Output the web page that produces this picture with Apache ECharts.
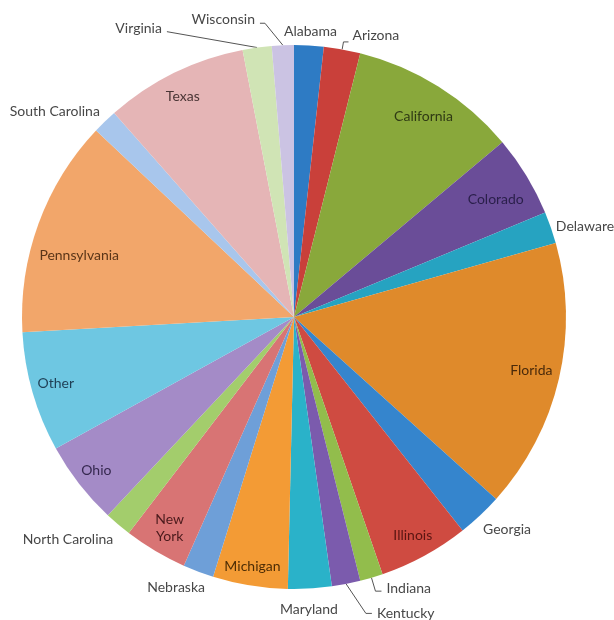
<!DOCTYPE html>
<html>
<head>
<meta charset="utf-8">
<script src="https://cdn.jsdelivr.net/npm/echarts@6/dist/echarts.min.js"></script>
<style>
html,body{margin:0;padding:0;background:#ffffff;}
#c{width:614px;height:620px;}
</style>
</head>
<body>
<div id="c"></div>
<script>
// ---- data ----
const states = ["Alabama","Arizona","California","Colorado","Delaware","Florida","Georgia","Illinois","Indiana","Kentucky","Maryland","Michigan","Nebraska","New York","North Carolina","Ohio","Other","Pennsylvania","South Carolina","Texas","Virginia","Wisconsin"];
const shares = [6.3, 7.8, 35.9, 17.4, 6.8, 57.8, 9.7, 19.3, 4.9, 6.1, 9.3, 16.0, 6.6, 13.5, 5.8, 17.9, 25.7, 46.5, 5.3, 30.5, 6.2, 4.7];

// ---- styles ----
const sliceColors = ["#2e7bc4","#c9403a","#89a83b","#6a4d98","#26a3c1","#df8a2b","#3585cd","#cf4b41","#92bd4c","#7b5bad","#2ab2c9","#f39b35","#6e9fd8","#d87474","#a3cd6c","#a48bc7","#6ec7e2","#f2a66a","#a8c6ec","#e5b5b6","#d0e4b5","#cbc3e3"];
const insideLabelStyle = {
  "California":   {color:"#2f3a14", nudge:[-2,10]},
  "Colorado":     {color:"#2a1f4a", nudge:[-10,11]},
  "Florida":      {color:"#4a2a0a", nudge:[-4,-3]},
  "Illinois":     {color:"#5a1512", nudge:[0,1]},
  "Michigan":     {color:"#4d2d05", nudge:[-1.5,4.5]},
  "New York":     {color:"#4a1a1c", nudge:[2,-2], text:"New\nYork"},
  "Ohio":         {color:"#35284f", nudge:[-2,1]},
  "Other":        {color:"#1f3f55", nudge:[0,-2]},
  "Pennsylvania": {color:"#5a3518", nudge:[18,23]},
  "Texas":        {color:"#4a3535", nudge:[-2,2]}
};
const outsideLabelStyle = {
  "Alabama":        {len:0,   len2:0,  dist:0, line:"none",     align:"center", nudge:[1.6,-13.7]},
  "Arizona":        {len:7.5, len2:5,  dist:4, line:"elbow",    nudge:[0,-6]},
  "Delaware":       {len:0,   len2:0,  dist:3, line:"none",     nudge:[2,-1]},
  "Georgia":        {len:0,   len2:0,  dist:3, line:"none",     nudge:[0,14]},
  "Indiana":        {len:14,  len2:6,  dist:5, line:"elbow",    nudge:[0,-3]},
  "Kentucky":       {len:30,  len2:20, dist:5, line:"diag", k:6, nudge:[0,0]},
  "Maryland":       {len:0,   len2:0,  dist:0, line:"none",     align:"center", nudge:[-1,20.5]},
  "Nebraska":       {len:0,   len2:0,  dist:3, line:"none",     nudge:[9.7,15.7]},
  "North Carolina": {len:0,   len2:0,  dist:3, line:"none",     nudge:[-1.8,14.8]},
  "South Carolina": {len:0,   len2:0,  dist:3, line:"none",     nudge:[-2,-9.8]},
  "Virginia":       {len:16,  len2:88, dist:5, line:"straight", nudge:[0,-3.6]},
  "Wisconsin":      {len:22,  len2:22, dist:5, line:"diag", k:5, nudge:[0,-4]}
};
const CENTER = [294, 317];
const RADIUS = 272;
const FONT = "Lato";
const FONT_SIZE = 14;
const OUT_COLOR = "#474747";

const chart = echarts.init(document.getElementById("c"), null, {renderer: "canvas"});

const mainData = states.map((name, i) => {
  const o = outsideLabelStyle[name];
  const item = {name: name, value: shares[i], itemStyle: {color: sliceColors[i]}};
  if (o) {
    item.label = {show: true, position: "outside", distanceToLabelLine: o.dist};
    item.labelLine = {show: o.line !== "none", length: o.len, length2: o.len2};
  } else {
    item.label = {show: false};
    item.labelLine = {show: false};
  }
  return item;
});

const overlayData = states.map((name, i) => {
  const s = insideLabelStyle[name];
  const item = {name: name, value: shares[i]};
  if (s) {
    item.label = {show: true, position: "inside", color: s.color, formatter: s.text ? s.text : "{b}"};
  } else {
    item.label = {show: false};
  }
  return item;
});

function anchorOf(params) {
  const r = params.labelRect;
  let x = r.x;
  if (params.align === "right") x = r.x + r.width;
  else if (params.align === "center") x = r.x + r.width / 2;
  return [x, r.y + r.height / 2];
}

function outsideLayout(params) {
  const name = states[params.dataIndex];
  const o = outsideLabelStyle[name];
  if (!o) return {};
  const a = anchorOf(params);
  const res = {x: a[0] + o.nudge[0], y: a[1] + o.nudge[1]};
  if (o.align) res.align = o.align;
  const pts = params.labelLinePoints;
  if (o.line !== "none" && pts && pts.length === 3) {
    const p0 = pts[0], p1 = pts[1], p2 = pts[2];
    if (o.line === "elbow") res.labelLinePoints = [p0, p1, p2];
    else if (o.line === "straight") res.labelLinePoints = [p0, p2];
    else if (o.line === "diag") {
      const s = p2[0] >= p1[0] ? 1 : -1;
      res.labelLinePoints = [p0, [p2[0] - s * o.k, p2[1]], p2];
    }
  }
  return res;
}

function insideLayout(params) {
  const name = states[params.dataIndex];
  const s = insideLabelStyle[name];
  if (!s) return {};
  const r = params.labelRect;
  return {x: r.x + r.width / 2 + s.nudge[0], y: r.y + r.height / 2 + s.nudge[1]};
}

chart.setOption({
  animation: false,
  backgroundColor: "#ffffff",
  series: [
    {
      type: "pie",
      center: CENTER,
      radius: [0, RADIUS],
      startAngle: 90,
      clockwise: true,
      avoidLabelOverlap: false,
      silent: true,
      emphasis: {disabled: true},
      itemStyle: {borderWidth: 0},
      label: {show: false, fontFamily: FONT, fontSize: FONT_SIZE, color: OUT_COLOR, bleedMargin: 0, overflow: "none"},
      labelLine: {lineStyle: {color: "#555555", width: 1}, smooth: false},
      labelLayout: outsideLayout,
      data: mainData
    },
    {
      type: "pie",
      center: CENTER,
      radius: [RADIUS * 0.8, RADIUS],
      startAngle: 90,
      clockwise: true,
      avoidLabelOverlap: false,
      silent: true,
      emphasis: {disabled: true},
      itemStyle: {color: "rgba(0,0,0,0)", borderWidth: 0},
      label: {fontFamily: FONT, fontSize: FONT_SIZE, lineHeight: 17, overflow: "none"},
      labelLine: {show: false},
      labelLayout: insideLayout,
      data: overlayData
    }
  ]
});
</script>
</body>
</html>
